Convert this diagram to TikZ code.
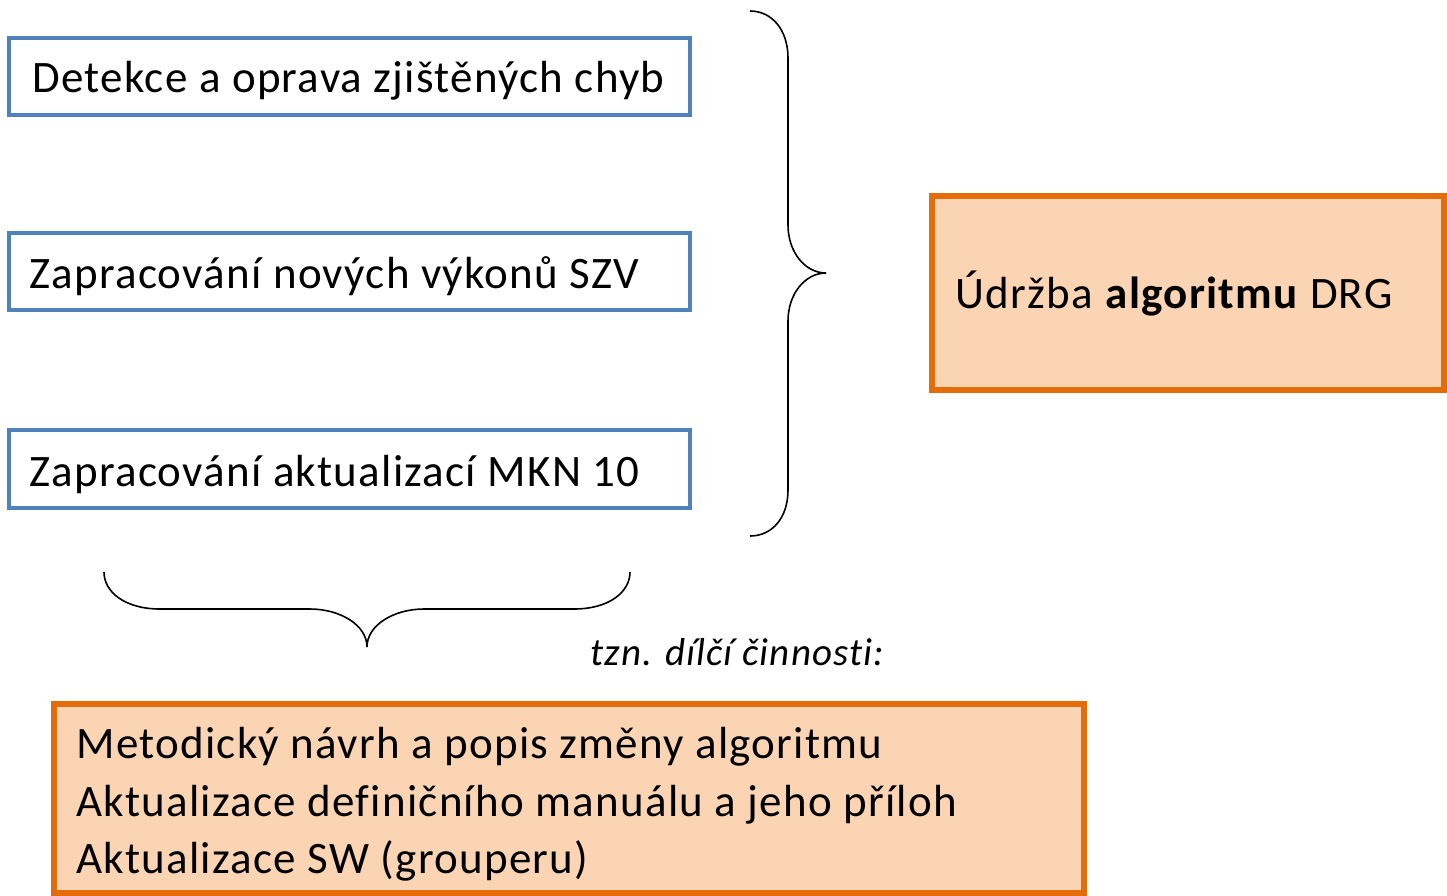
\documentclass[tikz,border=0pt]{standalone}
\usepackage{fontspec}
\setmainfont{Carlito}[LetterSpace=2.8,Ligatures={NoCommon,NoContextual}]
\definecolor{boxblue}{HTML}{4F81BD}
\definecolor{boxorange}{HTML}{E46C0A}
\definecolor{boxfill}{HTML}{FBD4B4}
\begin{document}
\begin{tikzpicture}[x=0.5pt,y=-0.5pt,
  bluebox/.style={draw=boxblue,line width=2pt},
  orangebox/.style={draw=boxorange,fill=boxfill,line width=3pt},
  lbl/.style={anchor=base west,inner sep=0pt,font=\fontsize{22.5pt}{29pt}\selectfont},
  brace/.style={draw=black,line width=0.8pt}]
\useasboundingbox (0,0) rectangle (1447,895);
% blue boxes
\draw[bluebox] (9,38) rectangle (690,115);
\draw[bluebox] (9,233) rectangle (690,310);
\draw[bluebox] (9,430) rectangle (690,508);
\node[lbl] (t1) at (32,92) {Detekce a oprava zjištěných chyb};
\node[lbl] (t2) at (29,288) {Zapracování nových výkonů SZV};
\node[lbl] (t3) at (29,486) {Zapracování aktualizací MKN 10};
% right orange box
\draw[orangebox] (932,196) rectangle (1444,390);
\node[lbl] (t4) at (955,308) {Údržba \textbf{algoritmu} DRG};
% right brace
\draw[brace] (750,11) .. controls (772,11) and (788,30) .. (788,58)
  -- (788,225) .. controls (788,252) and (805,273) .. (826,273)
  .. controls (805,273) and (788,294) .. (788,321)
  -- (788,490) .. controls (788,518) and (772,536) .. (750,536);
% bottom brace
\draw[brace] (104,572) .. controls (104,592) and (125,609) .. (160,609)
  -- (310,609) .. controls (340,609) and (367,625) .. (367,647)
  .. controls (367,625) and (394,609) .. (424,609)
  -- (574,609) .. controls (609,609) and (630,592) .. (630,572);
\node[lbl,font=\fontsize{19.5pt}{24pt}\selectfont\itshape] (t5) at (590,665) {tzn. dílčí činnosti:};
% bottom orange box
\draw[orangebox] (54,704) rectangle (1084,893);
\node[lbl] (l1) at (76,758) {Metodický návrh a popis změny algoritmu};
\node[lbl] (l2) at (76,816) {Aktualizace definičního manuálu a jeho příloh};
\node[lbl] (l3) at (76,873) {Aktualizace SW (grouperu)};
\end{tikzpicture}
\end{document}
